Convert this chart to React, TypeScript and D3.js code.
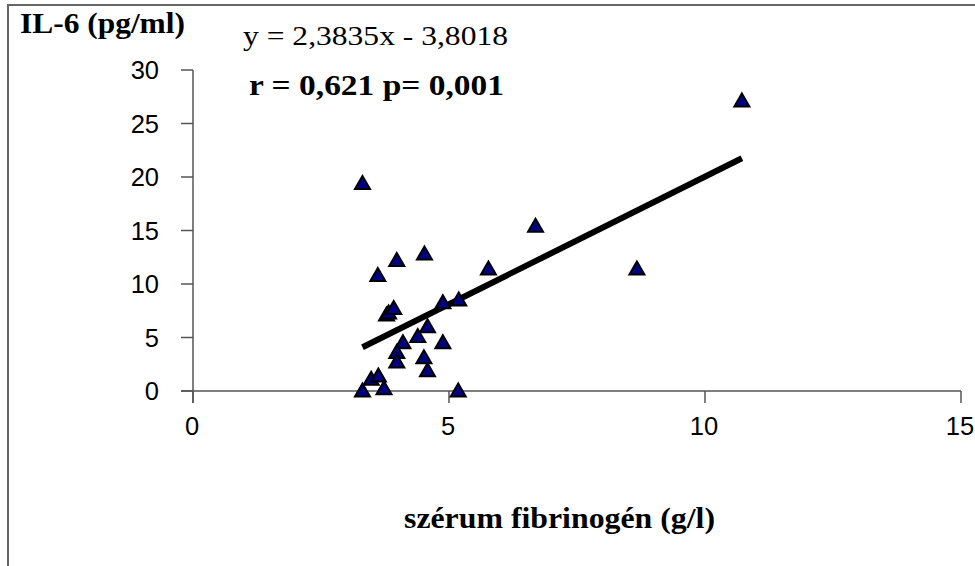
import React from "react";
import * as d3 from "d3";

const fibrinogen = [3.31, 6.69, 3.98, 4.52, 3.61, 5.77, 3.78, 3.82, 3.92, 4.88, 5.19, 4.58, 4.39, 4.88, 4.10, 3.98, 3.98, 4.51, 4.58, 3.48, 3.62, 3.31, 3.73, 5.18, 10.72, 8.67];
const il6 = [19.4, 15.4, 12.2, 12.8, 10.8, 11.4, 7.1, 7.3, 7.7, 8.25, 8.5, 6.0, 5.1, 4.5, 4.5, 3.6, 2.7, 3.1, 1.9, 1.1, 1.4, 0.0, 0.2, 0.0, 27.1, 11.4];
const xTicks = [0, 5, 10, 15];
const yTicks = [0, 5, 10, 15, 20, 25, 30];
const slope = 2.3835;
const intercept = -3.8018;
const yLabel = "IL-6 (pg/ml)";
const xLabel = "szérum fibrinogén (g/l)";
const eqText = "y = 2,3835x - 3,8018";
const statText = "r = 0,621 p= 0,001";

export default function App() {
  const W = 975, H = 566;
  const x = d3.scaleLinear().domain([0, 15]).range([193, 961]);
  const y = d3.scaleLinear().domain([0, 30]).range([391, 70]);
  const pts = fibrinogen.map((v, i) => [v, il6[i]] as [number, number]);
  const xMin = d3.min(fibrinogen) as number;
  const xMax = d3.max(fibrinogen) as number;
  const line = d3.line<number>().x((d) => x(d)).y((d) => y(slope * d + intercept));
  const tri = "M0,-7.5L7.5,5.5L-7.5,5.5Z";
  const serif = "Liberation Serif, Times New Roman, serif";
  const sans = "Liberation Sans, Arial, sans-serif";
  const axisColor = "#555";
  return (
    <svg width={W} height={H} style={{ position: "absolute", left: 0, top: 0, background: "#fff" }}>
      <rect x={0} y={0} width={W} height={H} fill="#fff" />
      <path d={`M8,${H + 5}V5H${W + 5}`} fill="none" stroke="#666" strokeWidth={2} />
      {/* axes */}
      <line x1={x(0)} x2={x(0)} y1={y(30)} y2={y(0) + 12} stroke={axisColor} strokeWidth={1.5} />
      <line x1={x(0) - 12} x2={x(15)} y1={y(0)} y2={y(0)} stroke={axisColor} strokeWidth={1.5} />
      {yTicks.map((t) => (
        <g key={"y" + t}>
          <line x1={x(0) - 12} x2={x(0)} y1={y(t)} y2={y(t)} stroke={axisColor} strokeWidth={1.5} />
          <text x={159} y={y(t) + 9} textAnchor="end" style={{ fontFamily: sans, fontSize: "25.5px" }} fill="#000">{t}</text>
        </g>
      ))}
      {xTicks.map((t) => (
        <g key={"x" + t}>
          <line x1={x(t)} x2={x(t)} y1={y(0)} y2={y(0) + 12} stroke={axisColor} strokeWidth={1.5} />
          <text x={x(t) - 1} y={435} textAnchor="middle" style={{ fontFamily: sans, fontSize: "25.5px" }} fill="#000">{t}</text>
        </g>
      ))}
      {/* trendline */}
      <path d={line([xMin, xMax]) || ""} fill="none" stroke="#000" strokeWidth={6} />
      {/* points */}
      {pts.map((p, i) => (
        <path key={i} d={tri} transform={`translate(${x(p[0])},${y(p[1])})`} fill="#000080" stroke="#000" strokeWidth={2} strokeLinejoin="miter" />
      ))}
      {/* texts */}
      <text x={20} y={33} style={{ fontFamily: serif, fontWeight: "bold", fontSize: "29px" }} textLength={165} lengthAdjust="spacingAndGlyphs">{yLabel}</text>
      <text x={243} y={45} style={{ fontFamily: serif, fontSize: "28px" }} textLength={265} lengthAdjust="spacingAndGlyphs">{eqText}</text>
      <text x={249} y={95} style={{ fontFamily: serif, fontWeight: "bold", fontSize: "29px" }} textLength={255} lengthAdjust="spacingAndGlyphs">{statText}</text>
      <text x={404} y={528} style={{ fontFamily: serif, fontWeight: "bold", fontSize: "29px" }} textLength={311} lengthAdjust="spacingAndGlyphs">{xLabel}</text>
    </svg>
  );
}
